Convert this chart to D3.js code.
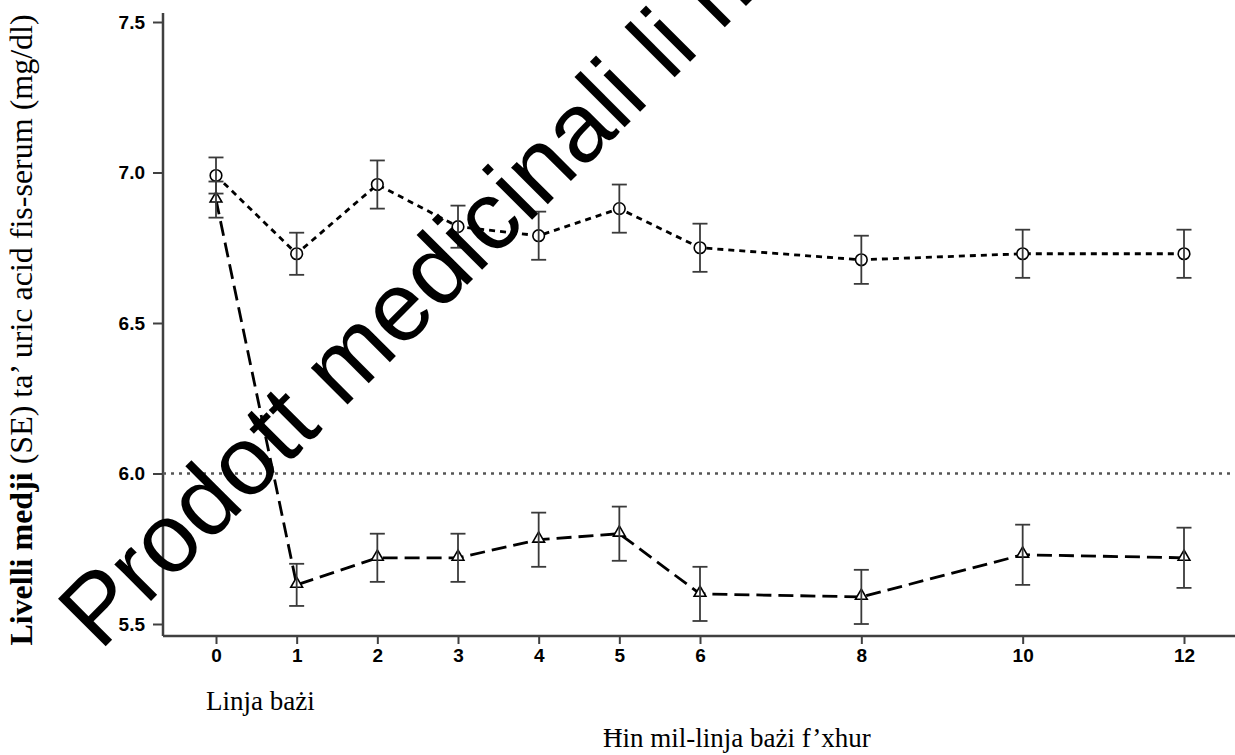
<!DOCTYPE html>
<html>
<head>
<meta charset="utf-8">
<script src="https://cdn.jsdelivr.net/npm/d3@7"></script>
<style>
    body { margin: 0; background: #fff; }
    .title { font-family: "Liberation Serif", "Times New Roman", serif; fill: #000; }
    .axis text { font-family: "Liberation Sans", Arial, sans-serif; font-weight: bold; font-size: 19px; }
</style>
</head>
<body>
<div id="chart"></div>
<script>

// Months since baseline
var months = [0, 1, 2, 3, 4, 5, 6, 8, 10, 12];
var monthLabels = ["0", "1", "2", "3", "4", "5", "6", "8", "10", "12"];

// Circle series (short dashes)
var circleMeans = [6.99, 6.73, 6.96, 6.82, 6.79, 6.88, 6.75, 6.71, 6.73, 6.73];
var circleSE    = [0.06, 0.07, 0.08, 0.07, 0.08, 0.08, 0.08, 0.08, 0.08, 0.08];

// Triangle series (long dashes)
var triangleMeans = [6.91, 5.63, 5.72, 5.72, 5.78, 5.80, 5.60, 5.59, 5.73, 5.72];
var triangleSE    = [0.06, 0.07, 0.08, 0.08, 0.09, 0.09, 0.09, 0.09, 0.10, 0.10];

var yTicks = [5.5, 6.0, 6.5, 7.0, 7.5];
var targetLevel = 6.0;

/*
 *  UricChart - draws the two series with SE bars
 */

UricChart = function(_parentElement) {
    this.parentElement = _parentElement;
    this.initVis();
}

UricChart.prototype.initVis = function() {
    var vis = this;

    vis.margin = {top: 13, right: 0, bottom: 119, left: 163};
    vis.width = 1235 - vis.margin.left - vis.margin.right;
    vis.height = 755 - vis.margin.top - vis.margin.bottom;

    vis.root = d3.select("#" + vis.parentElement).append("svg")
        .attr("width", 1235)
        .attr("height", 755);

    vis.svg = vis.root.append("g")
        .attr("transform", "translate(" + vis.margin.left + "," + vis.margin.top + ")");

    // Scales
    vis.x = d3.scaleLinear().domain([0, 12]).range([53, 1021]);
    vis.y = d3.scaleLinear().domain([5.5, 7.5]).range([611, 9]);

    // Axes
    vis.xAxis = d3.axisBottom(vis.x)
        .tickValues(months)
        .tickFormat((d, i) => monthLabels[i])
        .tickSize(8)
        .tickPadding(5);
    vis.yAxis = d3.axisLeft(vis.y)
        .tickValues(yTicks)
        .tickFormat(d3.format(".1f"))
        .tickSize(10)
        .tickPadding(8);

    var gx = vis.svg.append("g")
        .attr("class", "x-axis axis")
        .attr("transform", "translate(0," + vis.height + ")")
        .call(vis.xAxis);
    var gy = vis.svg.append("g")
        .attr("class", "y-axis axis")
        .call(vis.yAxis);

    [gx, gy].forEach(g => {
        g.attr("font-size", null).attr("font-family", null);
        g.select(".domain").remove();
        g.selectAll("line").attr("stroke", "#404040").attr("stroke-width", 2);
        g.selectAll("text").attr("fill", "#000");
    });

    // axis lines drawn by hand so they run to the edges
    vis.svg.append("line")
        .attr("x1", 0).attr("x2", 0)
        .attr("y1", 0).attr("y2", vis.height)
        .attr("stroke", "#404040").attr("stroke-width", 2.5);
    vis.svg.append("line")
        .attr("x1", 0).attr("x2", vis.width)
        .attr("y1", vis.height).attr("y2", vis.height)
        .attr("stroke", "#404040").attr("stroke-width", 2.5);

    vis.wrangleData();
}

UricChart.prototype.wrangleData = function() {
    var vis = this;

    vis.circleData = months.map((m, i) => ({month: m, mean: circleMeans[i], se: circleSE[i]}));
    vis.triangleData = months.map((m, i) => ({month: m, mean: triangleMeans[i], se: triangleSE[i]}));

    vis.updateVis();
}

UricChart.prototype.updateVis = function() {
    var vis = this;

    // 6.0 reference line
    vis.svg.append("line")
        .attr("x1", 0).attr("x2", vis.width)
        .attr("y1", vis.y(targetLevel)).attr("y2", vis.y(targetLevel))
        .attr("stroke", "#555").attr("stroke-width", 2.5)
        .attr("stroke-dasharray", "3,5");

    var line = d3.line()
        .x(d => vis.x(d.month))
        .y(d => vis.y(d.mean));

    vis.svg.append("path")
        .datum(vis.circleData)
        .attr("d", line)
        .attr("fill", "none")
        .attr("stroke", "#000")
        .attr("stroke-width", 2.8)
        .attr("stroke-dasharray", "6,5");

    vis.svg.append("path")
        .datum(vis.triangleData)
        .attr("d", line)
        .attr("fill", "none")
        .attr("stroke", "#000")
        .attr("stroke-width", 2.8)
        .attr("stroke-dasharray", "15,7");

    // markers
    vis.svg.selectAll(".circle-marker")
        .data(vis.circleData)
        .enter().append("circle")
        .attr("class", "circle-marker")
        .attr("cx", d => vis.x(d.month))
        .attr("cy", d => vis.y(d.mean))
        .attr("r", 5.8)
        .attr("fill", "#fff")
        .attr("stroke", "#000")
        .attr("stroke-width", 1.6);

    vis.svg.selectAll(".tri-marker")
        .data(vis.triangleData)
        .enter().append("path")
        .attr("class", "tri-marker")
        .attr("d", d3.symbol(d3.symbolTriangle, 60))
        .attr("transform", d => "translate(" + vis.x(d.month) + "," + (vis.y(d.mean) - 1) + ")")
        .attr("fill", "#fff")
        .attr("stroke", "#000")
        .attr("stroke-width", 1.6);

    // SE bars
    var allData = vis.circleData.concat(vis.triangleData);
    var bars = vis.svg.selectAll(".se-bar")
        .data(allData)
        .enter().append("g")
        .attr("class", "se-bar")
        .attr("stroke", "#3a3a3a")
        .attr("stroke-width", 1.8);
    bars.append("line")
        .attr("x1", d => vis.x(d.month)).attr("x2", d => vis.x(d.month))
        .attr("y1", d => vis.y(d.mean - d.se)).attr("y2", d => vis.y(d.mean + d.se));
    bars.append("line")
        .attr("x1", d => vis.x(d.month) - 7.5).attr("x2", d => vis.x(d.month) + 7.5)
        .attr("y1", d => vis.y(d.mean + d.se)).attr("y2", d => vis.y(d.mean + d.se));
    bars.append("line")
        .attr("x1", d => vis.x(d.month) - 7.5).attr("x2", d => vis.x(d.month) + 7.5)
        .attr("y1", d => vis.y(d.mean - d.se)).attr("y2", d => vis.y(d.mean - d.se));

    // Titles
    var yTitle = vis.root.append("text")
        .attr("class", "title")
        .attr("transform", "translate(32,330) rotate(-90)")
        .attr("text-anchor", "middle")
        .style("font-size", "32px");
    yTitle.append("tspan").style("font-weight", "bold").text("Livelli medji");
    yTitle.append("tspan").text(" (SE) ta’ uric acid fis-serum (mg/dl)");

    vis.root.append("text")
        .attr("class", "title")
        .attr("x", 206).attr("y", 710)
        .style("font-size", "27px")
        .text("Linja bażi");

    vis.root.append("text")
        .attr("class", "title")
        .attr("x", 603).attr("y", 747)
        .style("font-size", "27px")
        .text("Ħin mil-linja bażi f’xhur");

    // Watermark
    vis.root.append("text")
        .attr("transform", "translate(100,652) rotate(-45)")
        .style("font-family", "'Liberation Sans', Arial, sans-serif")
        .style("font-size", "98px")
        .attr("fill", "#000")
        .text("Prodott medicinali li m’għadux awtorizzat");
}

new UricChart("chart");

</script>
</body>
</html>
